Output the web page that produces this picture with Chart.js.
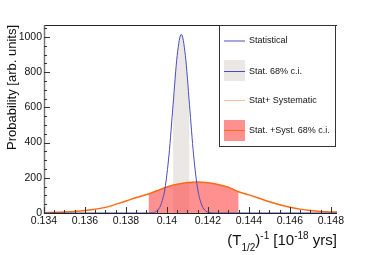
<!DOCTYPE html>
<html>
<head>
<meta charset="utf-8">
<script src="https://cdn.jsdelivr.net/npm/chart.js@4/dist/chart.umd.min.js"></script>
<style>
  html, body { margin: 0; padding: 0; background: #fff; }
  #wrap { width: 374px; height: 255px; }
</style>
</head>
<body>
<div id="wrap"><canvas id="chart"></canvas></div>
<script>
// Statistical-only posterior (blue)
const statX = [0.134, 0.1391, 0.1393, 0.1395, 0.1397, 0.1399, 0.1401, 0.1403, 0.1405, 0.1407,
               0.1409, 0.1411, 0.1413, 0.1415, 0.1417, 0.1419, 0.1421, 0.1423, 0.1483];
const statY = [0, 0, 2, 11, 45, 137, 330, 616, 895, 1015,
               895, 616, 330, 137, 45, 11, 2, 0, 0];

// Stat + systematic posterior (orange)
const systX = [0.134, 0.135, 0.136, 0.137, 0.138, 0.1385, 0.1391, 0.1395, 0.140, 0.1405,
               0.141, 0.1415, 0.142, 0.1425, 0.143, 0.1435, 0.144, 0.1445, 0.145, 0.1455,
               0.146, 0.1465, 0.147, 0.1475, 0.148, 0.1483];
const systY = [2, 5, 14, 32, 68, 88, 108, 126, 148, 163,
               173, 176, 172, 162, 146, 121, 103, 84, 64, 47,
               33, 22, 14, 9, 6, 5];

// 68% credible intervals
const statCI = [0.1403, 0.1411];
const systCI = [0.1391, 0.1435];

const xTickValues = [0.134, 0.136, 0.138, 0.14, 0.142, 0.144, 0.146, 0.148];
const yTickValues = [0, 200, 400, 600, 800, 1000];

const legendLabels = ['Statistical', 'Stat. 68% c.i.', 'Stat+ Systematic', 'Stat. +Syst. 68% c.i.'];

const blue = '#4b4bc0';
const orange = '#ff6a10';
const grayFill = 'rgb(234,231,229)';
const redFill = 'rgba(255,70,70,0.6)';

function points(xs, ys) {
    return xs.map((x, i) => ({ x: x, y: ys[i] }));
}
function inRange(xs, ys, r) {
    return points(xs, ys).filter(p => p.x >= r[0] - 1e-9 && p.x <= r[1] + 1e-9);
}

// ROOT-style frame: inward ticks, top line, legend box, axis titles
const rootFrame = {
    id: 'rootFrame',
    afterDraw(chart) {
        const ctx = chart.ctx;
        const a = chart.chartArea;
        const xs = chart.scales.x, ys = chart.scales.y;
        ctx.save();

        // axes
        ctx.strokeStyle = '#222';
        ctx.lineWidth = 1;
        ctx.beginPath();
        ctx.moveTo(a.left, a.bottom + 0.5); ctx.lineTo(a.right, a.bottom + 0.5);
        ctx.moveTo(a.left, a.top + 0.5); ctx.lineTo(a.right, a.top + 0.5);
        ctx.stroke();
        ctx.strokeStyle = '#777';
        ctx.lineWidth = 1.5;
        ctx.beginPath();
        ctx.moveTo(a.left + 0.5, a.top); ctx.lineTo(a.left + 0.5, a.bottom + 1);
        ctx.stroke();

        // x ticks
        ctx.strokeStyle = '#333';
        ctx.lineWidth = 1;
        ctx.beginPath();
        for (let v = 0.134; v <= 0.1483 + 1e-9; v += 0.0005) {
            const px = Math.round(xs.getPixelForValue(v)) + 0.5;
            const major = Math.abs(v / 0.002 - Math.round(v / 0.002)) < 1e-6;
            ctx.moveTo(px, a.bottom);
            ctx.lineTo(px, a.bottom - (major ? 6 : 3));
        }
        // y ticks
        for (let v = 0; v <= 1068; v += 50) {
            const py = Math.round(ys.getPixelForValue(v)) + 0.5;
            const major = v % 200 === 0;
            ctx.moveTo(a.left, py);
            ctx.lineTo(a.left + (major ? 6 : 3), py);
        }
        ctx.stroke();

        // legend
        const lx = 219, ly = 25, lw = 116, lh = 121;
        ctx.fillStyle = '#fff';
        ctx.fillRect(lx, ly, lw, lh);
        ctx.strokeStyle = '#333';
        ctx.strokeRect(lx + 0.5, ly + 0.5, lw, lh);
        const rows = [41, 71.5, 100.5, 130.5];
        ctx.fillStyle = grayFill;
        ctx.fillRect(224, 60, 21, 21);
        ctx.fillStyle = redFill;
        ctx.fillRect(224, 120, 21, 21);
        ctx.lineWidth = 1;
        ctx.strokeStyle = blue;
        ctx.beginPath();
        ctx.moveTo(224, rows[0]); ctx.lineTo(245, rows[0]);
        ctx.moveTo(224, rows[1]); ctx.lineTo(245, rows[1]);
        ctx.stroke();
        ctx.strokeStyle = 'rgb(255,190,150)';
        ctx.beginPath();
        ctx.moveTo(224, rows[2]); ctx.lineTo(245, rows[2]);
        ctx.stroke();
        ctx.strokeStyle = orange;
        ctx.beginPath();
        ctx.moveTo(224, rows[3]); ctx.lineTo(245, rows[3]);
        ctx.stroke();
        ctx.fillStyle = '#111';
        ctx.font = '9px "Liberation Sans", Arial, sans-serif';
        ctx.textBaseline = 'middle';
        ctx.textAlign = 'left';
        legendLabels.forEach((t, i) => ctx.fillText(t, 249, rows[i]));

        // y title
        ctx.save();
        ctx.translate(16, a.top);
        ctx.rotate(-Math.PI / 2);
        ctx.font = '13px "Liberation Sans", Arial, sans-serif';
        ctx.textAlign = 'right';
        ctx.textBaseline = 'alphabetic';
        ctx.fillText('Probability [arb. units]', 0, 0);
        ctx.restore();

        // x title: (T_{1/2})^{-1} [10^{-18} yrs]
        const big = '15px "Liberation Sans", Arial, sans-serif';
        const small = '10px "Liberation Sans", Arial, sans-serif';
        const parts = [
            ['(T', big, 0], ['1/2', small, 6], [')', big, 0], ['-1', small, -6],
            [' [10', big, 0], ['-18', small, -6], [' yrs]', big, 0]
        ];
        let w = 0;
        parts.forEach(p => { ctx.font = p[1]; w += ctx.measureText(p[0]).width; });
        let x = a.right - w;
        const base = 245;
        ctx.textAlign = 'left';
        ctx.textBaseline = 'alphabetic';
        parts.forEach(p => {
            ctx.font = p[1];
            ctx.fillText(p[0], x, base + p[2]);
            x += ctx.measureText(p[0]).width;
        });
        ctx.restore();
    }
};

const tickFont = { family: '"Liberation Sans", Arial, sans-serif', size: 10.5 };

new Chart(document.getElementById('chart'), {
    type: 'line',
    data: {
        datasets: [
            {
                label: legendLabels[0],
                data: points(statX, statY),
                borderColor: blue,
                borderWidth: 1,
                pointRadius: 0,
                cubicInterpolationMode: 'monotone',
                fill: false,
                order: 0
            },
            {
                label: legendLabels[2],
                data: points(systX, systY),
                borderColor: orange,
                borderWidth: 1.5,
                pointRadius: 0,
                cubicInterpolationMode: 'monotone',
                fill: false,
                order: 1
            },
            {
                label: legendLabels[3],
                data: inRange(systX, systY, systCI),
                borderWidth: 0,
                borderColor: 'transparent',
                backgroundColor: redFill,
                pointRadius: 0,
                cubicInterpolationMode: 'monotone',
                fill: 'origin',
                order: 2
            },
            {
                label: legendLabels[1],
                data: inRange(statX, statY, statCI),
                borderWidth: 0,
                borderColor: 'transparent',
                backgroundColor: grayFill,
                pointRadius: 0,
                cubicInterpolationMode: 'monotone',
                fill: 'origin',
                order: 3
            }
        ]
    },
    options: {
        responsive: true,
        maintainAspectRatio: false,
        animation: false,
        layout: { padding: { top: 25, right: 37, left: 0, bottom: 0 } },
        plugins: { legend: { display: false }, tooltip: { enabled: false } },
        scales: {
            x: {
                type: 'linear',
                min: 0.134,
                max: 0.1483,
                grid: { display: false, drawTicks: false },
                border: { display: false },
                afterBuildTicks: s => { s.ticks = xTickValues.map(v => ({ value: v })); },
                afterFit: s => { s.height = 42; },
                ticks: {
                    color: '#111',
                    font: tickFont,
                    padding: 2,
                    maxRotation: 0,
                    autoSkip: false,
                    callback: v => String(Number(v.toFixed(3)))
                }
            },
            y: {
                min: 0,
                max: 1068,
                grid: { display: false, drawTicks: false },
                border: { display: false },
                afterBuildTicks: s => { s.ticks = yTickValues.map(v => ({ value: v })); },
                afterFit: s => { s.width = 44; },
                ticks: { color: '#111', font: tickFont, padding: 2, callback: v => String(v) }
            }
        }
    },
    plugins: [rootFrame]
});
</script>
</body>
</html>
